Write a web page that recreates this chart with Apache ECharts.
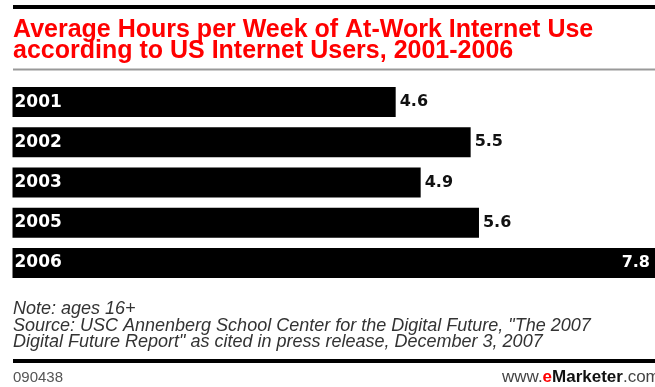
<!DOCTYPE html>
<html>
<head>
<meta charset="utf-8">
<script src="https://cdn.jsdelivr.net/npm/echarts@6/dist/echarts.min.js"></script>
<style>
  html, body { margin: 0; padding: 0; background: #fff; }
  #chart { width: 655px; height: 387px; }
</style>
</head>
<body>
<div id="chart"></div>
<script>
// Survey years and average weekly hours of at-work internet use
const years = ['2001', '2002', '2003', '2005', '2006'];
const hours = [4.6, 5.5, 4.9, 5.6, 7.8];

const titleText = 'Average Hours per Week of At-Work Internet Use\naccording to US Internet Users, 2001-2006';
const noteLines = [
  'Note: ages 16+',
  'Source: USC Annenberg School Center for the Digital Future, "The 2007',
  'Digital Future Report" as cited in press release, December 3, 2007'
];
const chartId = '090438';

const chart = echarts.init(document.getElementById('chart'), null, { renderer: 'canvas' });

// The longest bar runs past the right edge; its value sits inside it, in white
const barData = hours.map((v, i) => {
  if (i === hours.length - 1) {
    return {
      value: v,
      label: { position: 'insideRight', color: '#fff', distance: 5 }
    };
  }
  return v;
});

chart.setOption({
  backgroundColor: '#fff',
  animation: false,
  title: {
    text: titleText,
    left: 13,
    top: 20,
    padding: 0,
    textStyle: {
      color: '#ff0000',
      fontFamily: 'Liberation Sans, Arial, sans-serif',
      fontWeight: 'bold',
      fontSize: 25,
      lineHeight: 20.5
    }
  },
  grid: { left: 12.5, right: 0, top: 82, bottom: 104, containLabel: false },
  xAxis: {
    type: 'value',
    min: 0,
    max: 7.713,
    show: false
  },
  yAxis: {
    type: 'category',
    data: years,
    inverse: true,
    z: 10,
    axisLine: { show: false },
    axisTick: { show: false },
    splitLine: { show: false },
    axisLabel: {
      inside: true,
      margin: 2,
      color: '#fff',
      fontFamily: 'DejaVu Sans, Verdana, sans-serif',
      fontWeight: 'bold',
      fontSize: 17
    }
  },
  series: [{
    type: 'bar',
    data: barData,
    barWidth: 30,
    clip: true,
    itemStyle: { color: '#000' },
    label: {
      show: true,
      position: 'right',
      distance: 4,
      color: '#111',
      fontFamily: 'DejaVu Sans, Verdana, sans-serif',
      fontWeight: 'bold',
      fontSize: 16
    }
  }],
  graphic: [
    // heavy rule above the title
    { type: 'rect', shape: { x: 13, y: 5, width: 642, height: 4 }, style: { fill: '#000' } },
    // thin grey rule under the title
    { type: 'rect', shape: { x: 13, y: 68.5, width: 642, height: 2 }, style: { fill: '#999' } },
    // heavy rule above the footer
    { type: 'rect', shape: { x: 13, y: 359, width: 642, height: 4 }, style: { fill: '#000' } },
    {
      type: 'text',
      left: 13,
      top: 300,
      style: {
        text: noteLines.join('\n'),
        fill: '#333',
        font: 'italic 18px "Liberation Sans", Arial, sans-serif',
        lineHeight: 16.5
      }
    },
    {
      type: 'text',
      left: 13,
      top: 370,
      style: {
        text: chartId,
        fill: '#555',
        font: '15px "Liberation Sans", Arial, sans-serif'
      }
    },
    {
      type: 'text',
      left: 502,
      top: 369,
      style: {
        text: '{w|www.}{e|e}{m|Marketer}{w|.com}',
        rich: {
          w: { fill: '#444', fontSize: 17, fontFamily: 'Liberation Sans, Arial, sans-serif' },
          e: { fill: '#ff0000', fontSize: 17, fontWeight: 'bold', fontFamily: 'Liberation Sans, Arial, sans-serif' },
          m: { fill: '#111', fontSize: 17, fontWeight: 'bold', fontFamily: 'Liberation Sans, Arial, sans-serif' }
        }
      }
    }
  ]
});
</script>
</body>
</html>
